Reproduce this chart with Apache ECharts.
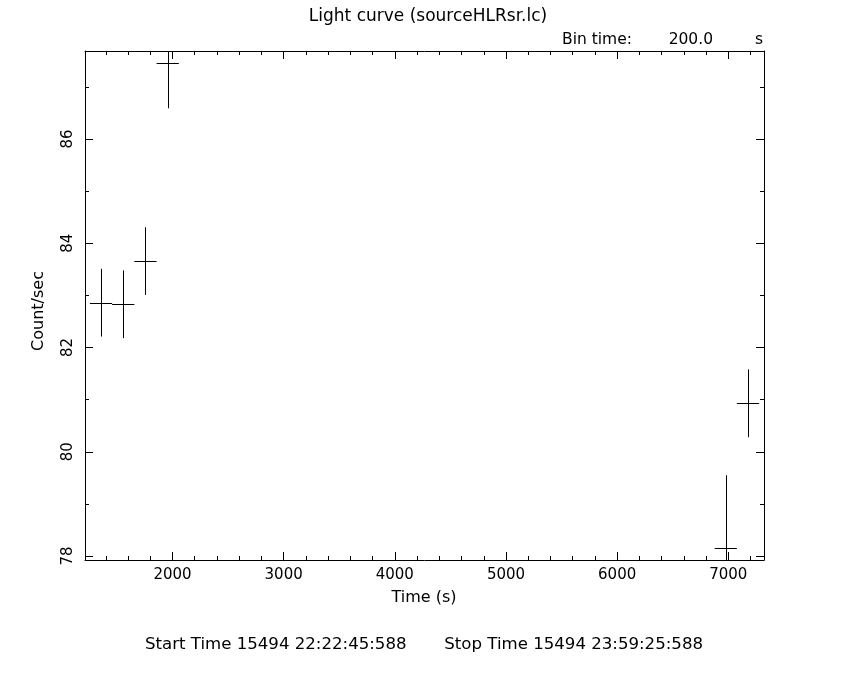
<!DOCTYPE html>
<html>
<head>
<meta charset="utf-8">
<script src="https://cdn.jsdelivr.net/npm/echarts@6/dist/echarts.min.js"></script>
<style>
html,body{margin:0;padding:0;background:#fff;}
#chart{width:850px;height:680px;}
</style>
</head>
<body>
<div id="chart"></div>
<script>
// ---- data ----
const times   = [1357, 1557, 1757, 1957, 6977, 7177];       // bin centres (s)
const rates   = [82.86, 82.83, 83.66, 87.46, 78.15, 80.93]; // count/sec
const rateErr = [0.65, 0.65, 0.65, 0.87, 1.40, 0.65];       // 1-sigma error
const binTime = 200.0;                                      // s
const xRange  = [1213, 7321];
const yRange  = [77.923, 87.69];
const titleText = 'Light curve (sourceHLRsr.lc)';
const startText = 'Start Time 15494 22:22:45:588';
const stopText  = 'Stop Time 15494 23:59:25:588';

const FONT = 'DejaVu Sans';
const fs = 15;
const seriesData = times.map((t, i) => [t, rates[i], binTime / 2, rateErr[i]]);

function font(size) { return size + 'px "' + FONT + '"'; }

function mkAxis(pos, major, labels, split) {
  const isX = (pos === 'bottom' || pos === 'top');
  return {
    type: 'value', position: pos,
    min: isX ? xRange[0] : yRange[0],
    max: isX ? xRange[1] : yRange[1],
    splitNumber: split, scale: true,
    axisLine: { show: major, onZero: false, lineStyle: { color: '#000', width: 1 } },
    axisTick: { show: true, inside: true, length: major ? 8 : 4, lineStyle: { color: '#000', width: 1 } },
    axisLabel: labels ? {
      show: true, color: '#000', fontFamily: FONT, fontSize: fs,
      showMinLabel: false, showMaxLabel: false,
      margin: (pos === 'left') ? 9 : 8,
      rotate: (pos === 'left') ? 90 : 0,
      formatter: function (v) { return String(Math.round(v)); }
    } : { show: false },
    splitLine: { show: false }
  };
}

const chart = echarts.init(document.getElementById('chart'), null, { renderer: 'canvas' });
chart.setOption({
  backgroundColor: '#fff',
  animation: false,
  grid: { left: 85, top: 51, width: 679, height: 509, containLabel: false },
  xAxis: [
    mkAxis('bottom', true, true, 6),
    mkAxis('bottom', false, false, 30),
    mkAxis('top', true, false, 6),
    mkAxis('top', false, false, 30)
  ],
  yAxis: [
    mkAxis('left', true, true, 5),
    mkAxis('left', false, false, 10),
    mkAxis('right', true, false, 5),
    mkAxis('right', false, false, 10)
  ],
  graphic: [
    { type: 'text', x: 428, y: 17, style: { text: titleText, font: font(17), fill: '#000', align: 'center', verticalAlign: 'middle' } },
    { type: 'text', x: 562, y: 40, style: { text: 'Bin time:', font: font(15.5), fill: '#000', verticalAlign: 'middle' } },
    { type: 'text', x: 713, y: 40, style: { text: binTime.toFixed(1), font: font(15.5), fill: '#000', align: 'right', verticalAlign: 'middle' } },
    { type: 'text', x: 755, y: 40, style: { text: 's', font: font(15.5), fill: '#000', verticalAlign: 'middle' } },
    { type: 'text', x: 424, y: 598, style: { text: 'Time (s)', font: font(16), fill: '#000', align: 'center', verticalAlign: 'middle' } },
    { type: 'text', x: 39, y: 311, rotation: Math.PI / 2, style: { text: 'Count/sec', font: font(16), fill: '#000', align: 'center', verticalAlign: 'middle' } },
    { type: 'text', x: 145, y: 645, style: { text: startText, font: font(16.6), fill: '#000', verticalAlign: 'middle' } },
    { type: 'text', x: 703, y: 645, style: { text: stopText, font: font(16.6), fill: '#000', align: 'right', verticalAlign: 'middle' } }
  ],
  series: [{
    type: 'custom',
    xAxisIndex: 0, yAxisIndex: 0,
    clip: true,
    data: seriesData,
    renderItem: function (params, api) {
      const x = api.value(0), y = api.value(1), xe = api.value(2), ye = api.value(3);
      const pL = api.coord([x - xe, y]), pR = api.coord([x + xe, y]);
      const pT = api.coord([x, y + ye]), pB = api.coord([x, y - ye]);
      const cy = Math.round(pL[1]) + 0.5, cx = Math.round(pT[0]) + 0.5;
      const st = { stroke: '#000', lineWidth: 1 };
      return {
        type: 'group',
        children: [
          { type: 'line', shape: { x1: pL[0], y1: cy, x2: pR[0], y2: cy }, style: st },
          { type: 'line', shape: { x1: cx, y1: pT[1], x2: cx, y2: pB[1] }, style: st }
        ]
      };
    }
  }]
});
</script>
</body>
</html>
